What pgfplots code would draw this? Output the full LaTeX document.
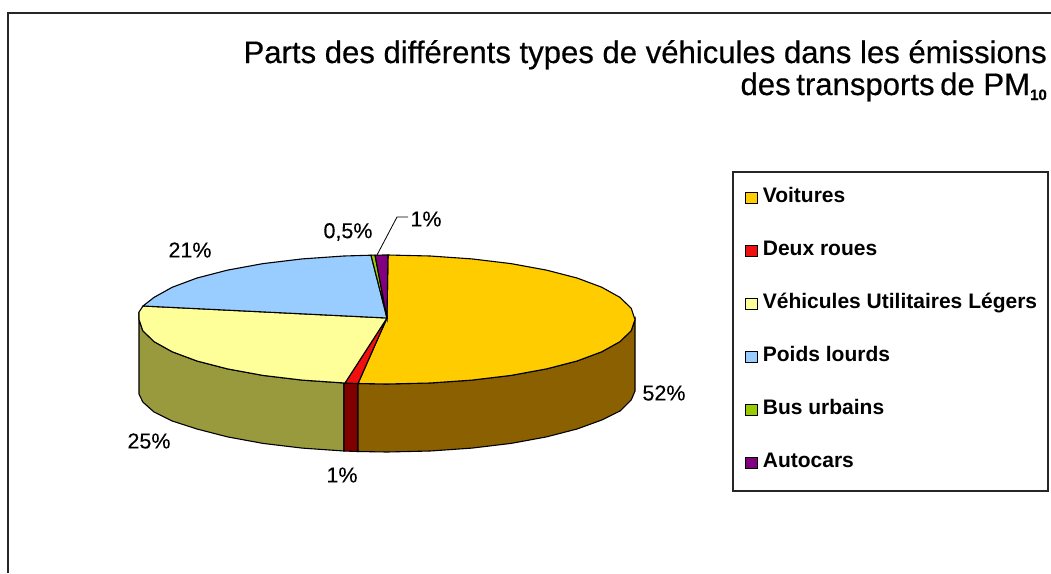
\documentclass[border=0pt]{standalone}
\usepackage{pgfplots}
\pgfplotsset{compat=1.18}
\usepackage{fontspec}
\setmainfont{Liberation Sans}
\newfontfamily\semib[FakeBold=0.5]{Liberation Sans}
\newfontfamily\lab[FakeBold=0.25]{Liberation Sans}
\definecolor{cVoit}{HTML}{FFCC00}
\definecolor{cVoitS}{HTML}{8A6000}
\definecolor{cDeux}{HTML}{F01010}
\definecolor{cDeuxS}{HTML}{800000}
\definecolor{cVul}{HTML}{FFFF99}
\definecolor{cVulS}{HTML}{99993D}
\definecolor{cPl}{HTML}{99CCFF}
\definecolor{cBus}{HTML}{99CC00}
\definecolor{cAuto}{HTML}{800080}
\begin{document}
\begin{tikzpicture}
\path[use as bounding box] (0,0) rectangle (1051pt,573pt);
\begin{axis}[
  at={(0,0)}, anchor=south west,
  scale only axis, width=1051pt, height=573pt,
  xmin=0, xmax=1051, ymin=0, ymax=573, y dir=reverse,
  hide axis, clip=false, area legend,
  legend cell align=left,
  legend image code/.code={\path (0pt,0pt); \draw[#1,line width=1.2pt] (2pt,-5pt) rectangle (14pt,6pt); \path (18pt,0pt);},
  legend style={at={(axis cs:732,171)}, anchor=north west, draw=black!85, line width=1.5pt,
    font=\bfseries\fontsize{21}{22}\selectfont, inner xsep=10pt, inner ysep=19pt,
    /tikz/row sep=37pt, nodes={inner sep=1pt, text height=11pt, text depth=3pt}},
]
% frame
\addplot[forget plot, black!85, line width=1.8pt] coordinates {(8,573) (8,13) (1051,13)};
% side walls
\addplot[forget plot, fill=cVulS, draw=black, line width=1.1pt] coordinates {
 (139,312) (139,319.5) (142.8,330.7) (154,341.6) (172.2,351.75) (197,361) (227.6,368.9) (263,375.4) (302.2,380.1) (344,383)
 (344,451) (302.2,448.1) (263,443.4) (227.6,436.9) (197,429) (172.2,421) (154,412) (142.8,402) (139,394)} --cycle;
\addplot[forget plot, fill=cDeuxS, draw=black, line width=1.1pt] coordinates {
 (344,383) (358,383.5) (358,451.5) (344,451)} --cycle;
\addplot[forget plot, fill=cVoitS, draw=black, line width=1.1pt] coordinates {
 (358,383.5) (387,384) (430.1,383) (471.8,380.1) (511,375.4) (546.4,368.9) (577,361) (601.8,351.75) (620,341.6) (631.2,330.7) (635,319.5)
 (635,391) (631.2,400) (620,411) (601.8,420) (577,429) (546.4,436.9) (511,443.4) (471.8,448.1) (430.1,451) (387,452) (358,451.5)} --cycle;
% top slices
\addplot[fill=cVoit, draw=black, line width=1.1pt] coordinates {
 (387,318) (388,255) (430.1,256) (471.8,258.9) (511,263.6) (546.4,270.1) (577,278) (601.8,287.25) (620,297.4) (631.2,308.3) (635,319.5)
 (631.2,330.7) (620,341.6) (601.8,351.75) (577,361) (546.4,368.9) (511,375.4) (471.8,380.1) (430.1,383) (387,384) (358,383.5)} --cycle;
\addlegendentry{Voitures}
\addplot[fill=cDeux, draw=black, line width=1.1pt] coordinates {(387,318) (358,383.5) (345,383)} --cycle;
\addlegendentry{Deux roues}
\addplot[fill=cVul, draw=black, line width=1.1pt] coordinates {
 (387,318) (345,383) (302.2,380.1) (263,375.4) (227.6,368.9) (197,361) (172.2,351.75) (154,341.6) (142.8,330.7) (139,319.5) (139,312) (143,306)} --cycle;
\addlegendentry{Véhicules Utilitaires Légers}
\addplot[fill=cPl, draw=black, line width=1.1pt] coordinates {
 (387,318) (143,306) (154,297.4) (172.2,287.25) (197,278) (227.6,270.1) (263,263.6) (302.2,258.9) (343.9,256) (371,255.2)} --cycle;
\addlegendentry{Poids lourds}
\addplot[fill=cBus, draw=black, line width=1.1pt] coordinates {(387,318) (371,255.2) (375,255.1)} --cycle;
\addlegendentry{Bus urbains}
\addplot[fill=cAuto, draw=black, line width=1.1pt] coordinates {(387,318) (375,255.1) (388,255)} --cycle;
\addlegendentry{Autocars}
% leader line
\addplot[forget plot, black, line width=0.8pt] coordinates {(377,255) (397,217) (408,217)};
% data labels
\node[font=\lab\fontsize{21.5}{22}\selectfont] at (axis cs:664,393) {52\%};
\node[font=\lab\fontsize{21.5}{22}\selectfont] at (axis cs:149,441) {25\%};
\node[font=\lab\fontsize{21.5}{22}\selectfont] at (axis cs:342,475) {1\%};
\node[font=\lab\fontsize{21.5}{22}\selectfont] at (axis cs:190,250) {21\%};
\node[font=\lab\fontsize{21.5}{22}\selectfont] at (axis cs:348,232) {0,5\%};
\node[font=\lab\fontsize{21.5}{22}\selectfont] at (axis cs:426,219) {1\%};
% title
\node[font=\semib\fontsize{31.1}{34}\selectfont, anchor=base east, inner sep=0pt] at (axis cs:1047,63) {Parts des différents types de véhicules dans les émissions};
\node[font=\semib\fontsize{31.1}{34}\selectfont, anchor=base east, inner sep=0pt] at (axis cs:1047,95) {des\hspace{-3pt} transports\hspace{-3pt} de PM\raisebox{-5pt}{\fontsize{15}{15}\selectfont\bfseries 10}};
\end{axis}
\end{tikzpicture}
\end{document}
